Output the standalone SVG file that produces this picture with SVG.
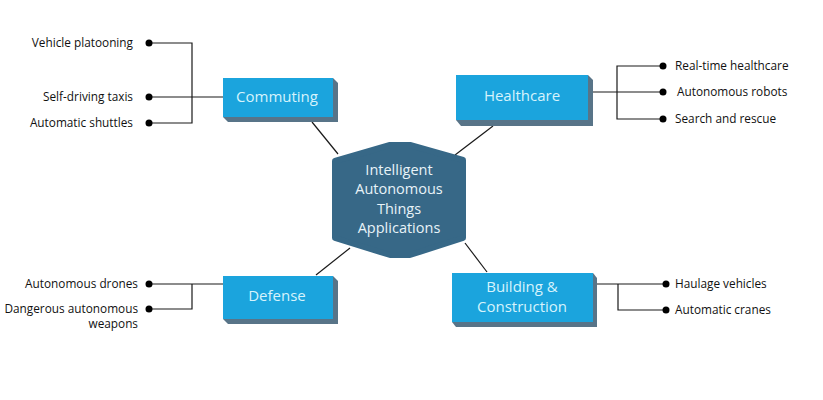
<svg xmlns="http://www.w3.org/2000/svg" width="823" height="400" viewBox="0 0 823 400">
<style>
.box{fill:#1ba4dd}
.side{fill:#587488}
.bt{font-family:"Open Sans","Noto Sans",sans-serif;font-size:15px;fill:#d6f3fc;text-anchor:middle}
.ct{font-family:"Open Sans","Noto Sans",sans-serif;font-size:14.5px;fill:#e8f3f8;text-anchor:middle}
.lb{font-family:"Open Sans","Noto Sans",sans-serif;font-size:11.8px;fill:#111}
.r{text-anchor:end}
.ln{fill:none;stroke:#1a1a1a;stroke-width:1.2}
.dot{fill:#000}
</style>
<rect width="823" height="400" fill="#fff"/>
<g id="connectors">
<path class="ln" d="M312 122 L338 154"/>
<path class="ln" d="M493 126 L455 155"/>
<path class="ln" d="M350 248 L316 275"/>
<path class="ln" d="M465 243 L487 272"/>
<path class="ln" d="M149 43 H192 V123 H149 M149 97 H223"/>
<path class="ln" d="M663 66 H617 V119 H663 M593 92 H663"/>
<path class="ln" d="M149 284 H223 M192 284 V309 H149"/>
<path class="ln" d="M597 284 H666 M618 284 V310 H666"/>
<circle class="dot" cx="149" cy="43" r="3.5"/>
<circle class="dot" cx="149" cy="97" r="3.5"/>
<circle class="dot" cx="149" cy="123" r="3.5"/>
<circle class="dot" cx="663" cy="66" r="3.5"/>
<circle class="dot" cx="663" cy="92" r="3.5"/>
<circle class="dot" cx="663" cy="119" r="3.5"/>
<circle class="dot" cx="149" cy="284" r="3.5"/>
<circle class="dot" cx="149" cy="309" r="3.5"/>
<circle class="dot" cx="666" cy="284" r="3.5"/>
<circle class="dot" cx="666" cy="310" r="3.5"/>
</g>
<g id="center">
<path d="M335 161 L390 145 L410 145 L463 160 L463 238 L410 255 L390 255 L335 238 Z" fill="#376887" stroke="#376887" stroke-width="6" stroke-linejoin="round"/>
<text class="ct" x="399" y="175">Intelligent</text>
<text class="ct" x="399" y="194">Autonomous</text>
<text class="ct" x="399" y="214">Things</text>
<text class="ct" x="399" y="233">Applications</text>
</g>
<g id="commuting">
<polygon class="side" points="333,78 338,83 338,122 228,122 223,117"/>
<rect class="box" x="223" y="78" width="110" height="39"/>
<text class="bt" x="277" y="102">Commuting</text>
<text class="lb r" x="133" y="47">Vehicle platooning</text>
<text class="lb r" x="133" y="101">Self-driving taxis</text>
<text class="lb r" x="133" y="127">Automatic shuttles</text>
</g>
<g id="healthcare">
<polygon class="side" points="588,75 593,80 593,126 461,126 456,120"/>
<rect class="box" x="456" y="75" width="132" height="45"/>
<text class="bt" x="522" y="101">Healthcare</text>
<text class="lb" x="675" y="70">Real-time healthcare</text>
<text class="lb" x="677" y="96">Autonomous robots</text>
<text class="lb" x="675" y="123">Search and rescue</text>
</g>
<g id="defense">
<polygon class="side" points="333,276 338,281 338,324 228,324 223,319"/>
<rect class="box" x="223" y="276" width="110" height="43"/>
<text class="bt" x="277" y="301">Defense</text>
<text class="lb r" x="138" y="288">Autonomous drones</text>
<text class="lb r" x="138" y="313">Dangerous autonomous</text>
<text class="lb r" x="138" y="328">weapons</text>
</g>
<g id="building">
<polygon class="side" points="593,273 597,278 597,327 456,327 452,322"/>
<rect class="box" x="452" y="273" width="141" height="49"/>
<text class="bt" x="522" y="292">Building &amp;</text>
<text class="bt" x="522" y="312">Construction</text>
<text class="lb" x="675" y="288">Haulage vehicles</text>
<text class="lb" x="675" y="314">Automatic cranes</text>
</g>
</svg>
